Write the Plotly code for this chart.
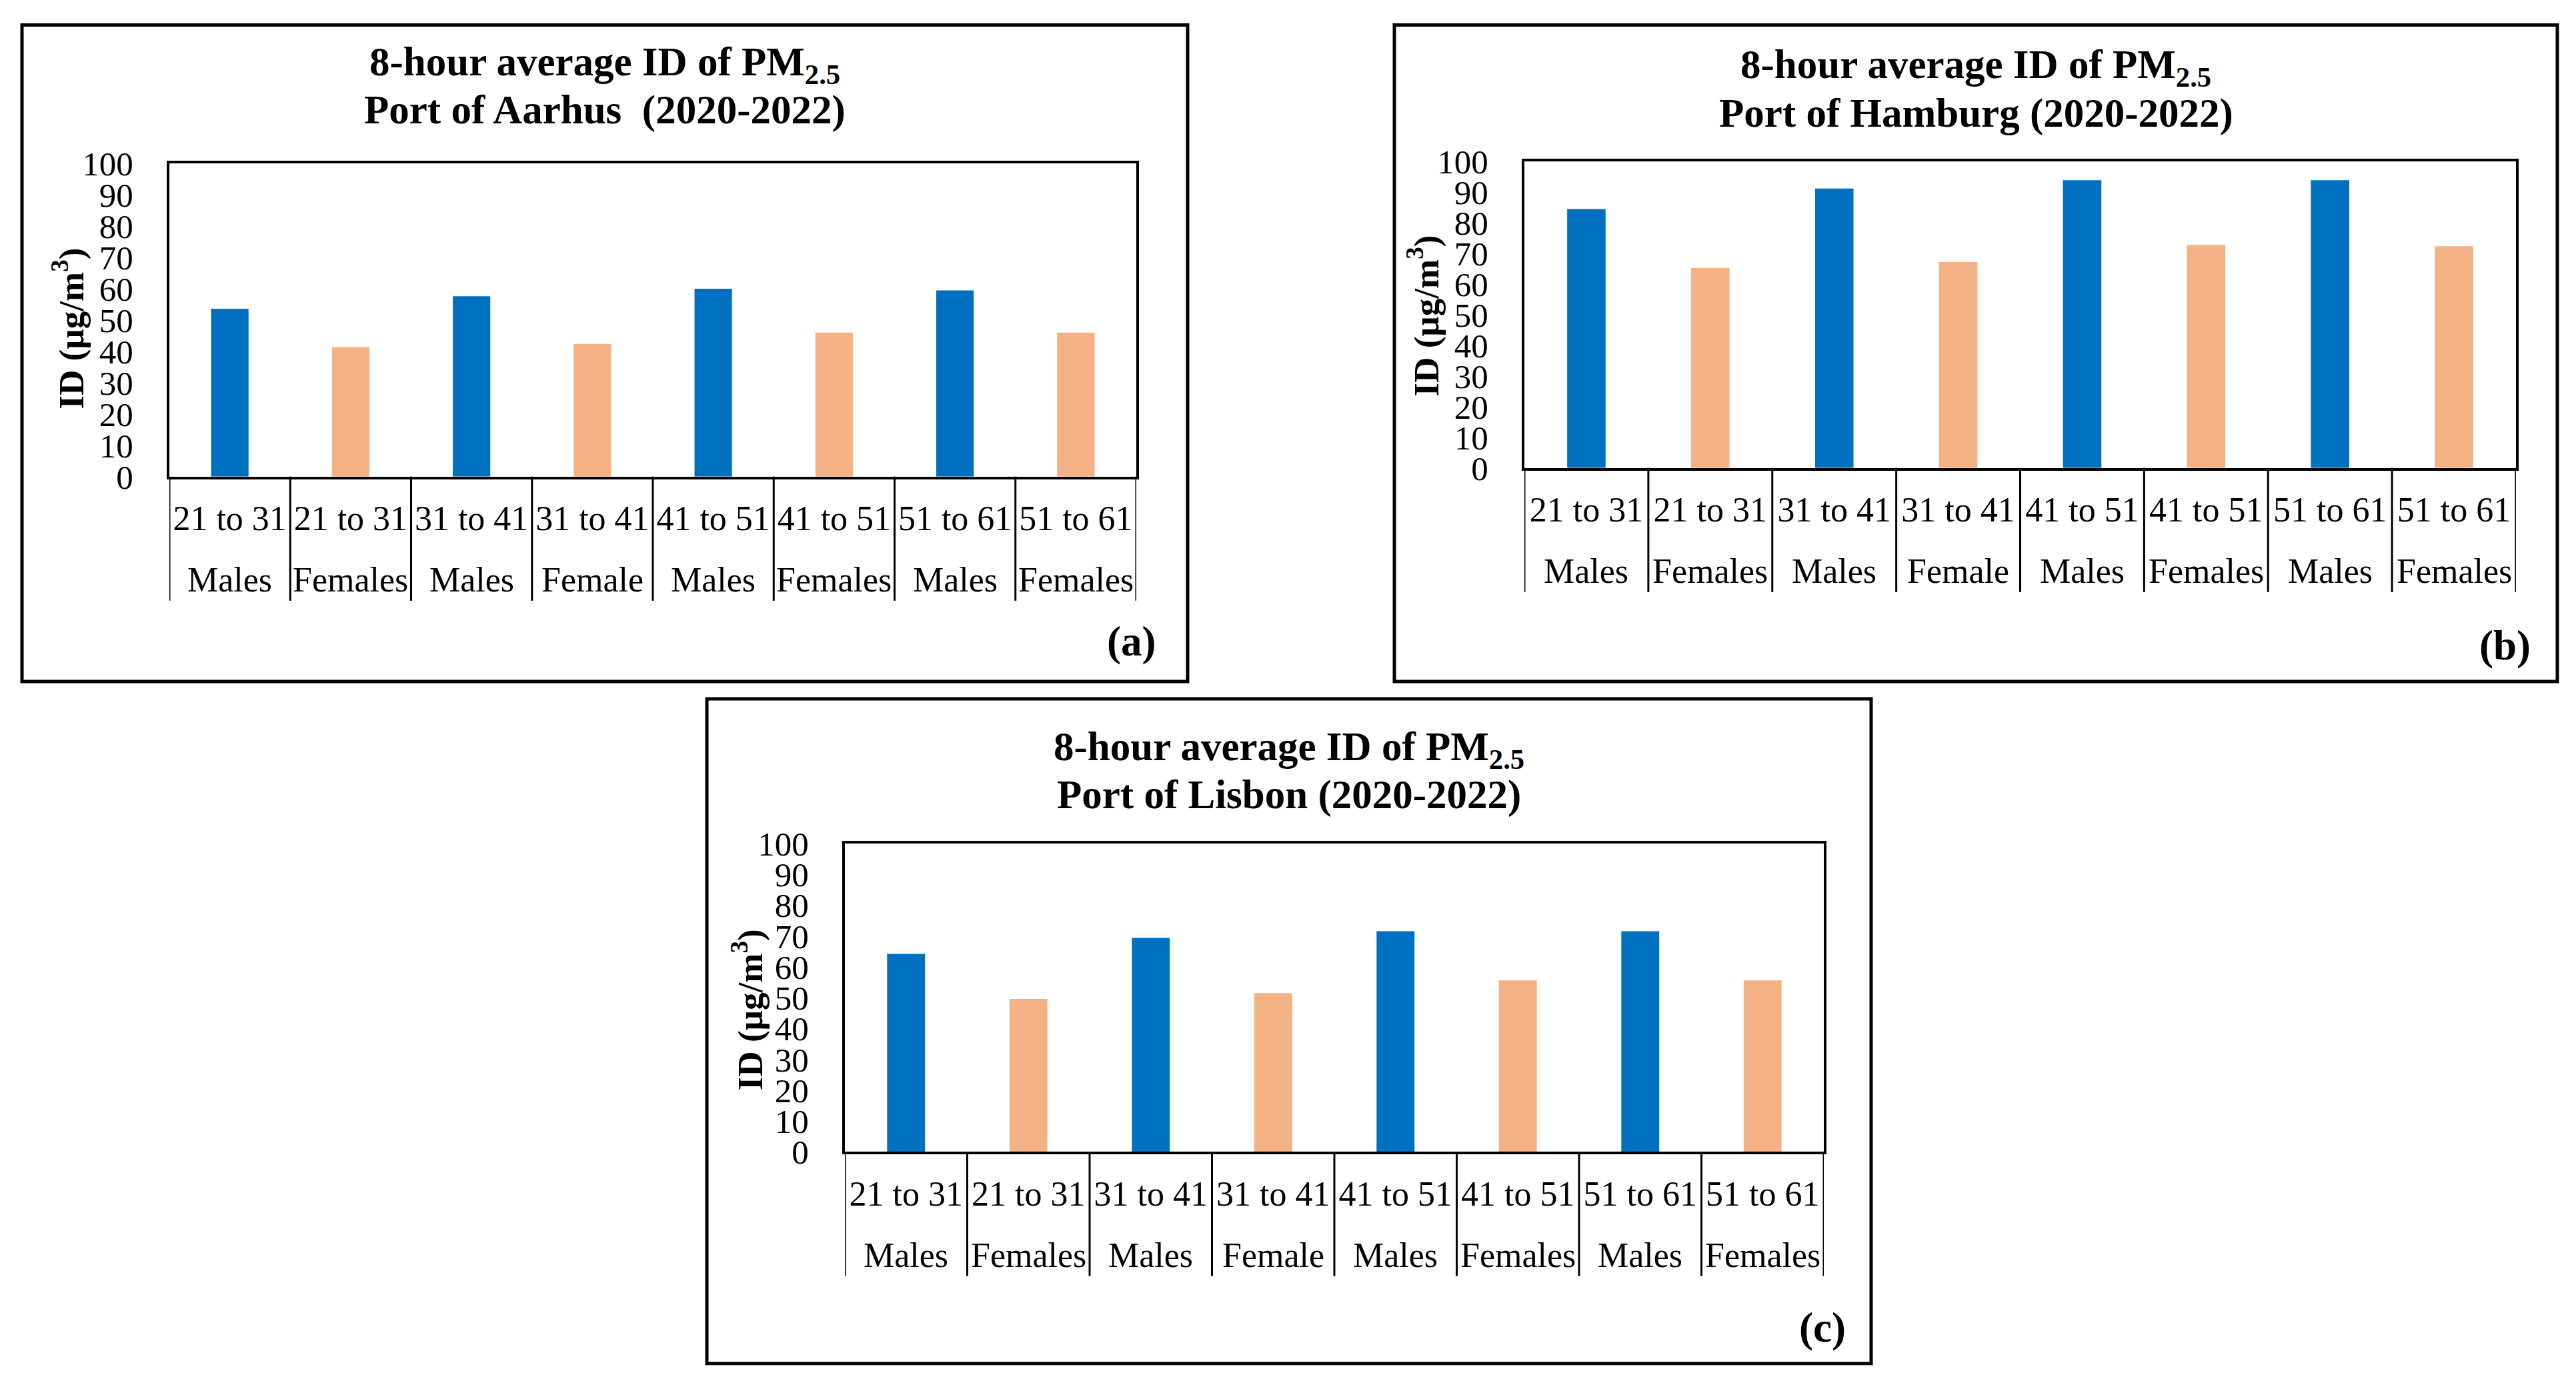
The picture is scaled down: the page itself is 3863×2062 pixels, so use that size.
import plotly.graph_objects as go

# figure size (the reference canvas is 3863 x 2062)
W, H = 3863, 2090

age_groups = ["21 to 31", "21 to 31", "31 to 41", "31 to 41",
              "41 to 51", "41 to 51", "51 to 61", "51 to 61"]
sex_labels = ["Males", "Females", "Males", "Female",
              "Males", "Females", "Males", "Females"]

aarhus = [53.6, 41.4, 57.6, 42.4, 60.0, 46.0, 59.5, 46.0]
hamburg = [84.5, 65.3, 91.2, 67.2, 93.9, 72.8, 93.9, 72.4]
lisbon = [64.2, 49.6, 69.4, 51.5, 71.6, 55.6, 71.6, 55.6]

title_line1 = "8-hour average ID of PM<sub>2.5</sub>"
titles = ["Port of Aarhus  (2020-2022)", "Port of Hamburg (2020-2022)", "Port of Lisbon (2020-2022)"]
panel_tags = ["(a)", "(b)", "(c)"]
y_title = "ID (µg/m<sup>3</sup>)"
y_ticks = list(range(0, 101, 10))

BLUE = "#0070C0"
ORANGE = "#F4B183"
FONT = "Liberation Serif, Times New Roman, serif"


# map reference-canvas pixel positions to figure pixels (page offset compensation)
def fx(x):
    return x - 8


def fy(y):
    return (y - 33.8) / 0.9725


def px(x):
    return fx(x) / W


def py(y):
    return min(1 - fy(y) / H, 1 - 2.5 / H)


panels = [
    dict(box=(33, 22, 1781, 1020), plot=(254, 244, 1704, 713), ytitle=(103, 491), tag=(1696, 960), t1=96, t2=164),
    dict(box=(2091, 22, 3835, 1020), plot=(2286, 241, 3773, 700), ytitle=(2135, 472), tag=(3756, 966), t1=100, t2=169),
    dict(box=(1060, 1046, 2806, 2042), plot=(1267, 1263, 2735, 1725), ytitle=(1121, 1512), tag=(2733, 1988), t1=1122, t2=1190),
]
datasets = [aarhus, hamburg, lisbon]

ROW2_OFF = 155   # px below the axis line, centre of 2nd label row
DIV_OFF = 186    # px below the axis line, bottom of divider lines

keys = [a + " | " + s for a, s in zip(age_groups, sex_labels)]
colors = [BLUE if s == "Males" else ORANGE for s in sex_labels]

fig = go.Figure()
shapes = []
annotations = []

for i, (p, vals) in enumerate(zip(panels, datasets)):
    ax = "" if i == 0 else str(i + 1)
    fig.add_trace(go.Bar(
        x=keys, y=vals,
        marker=dict(color=colors, line=dict(width=0)),
        width=0.31, xaxis="x" + ax, yaxis="y" + ax, showlegend=False,
    ))
    x0, y0, x1, y1 = p["plot"]
    ph = y1 - y0
    fig.layout["xaxis" + ax] = dict(
        domain=[px(x0), px(x1)], anchor="y" + ax, type="category",
        range=[-0.5, len(keys) - 0.5],
        tickmode="array", tickvals=keys, ticktext=age_groups,
        showline=True, linecolor="black", linewidth=4, mirror=True,
        showgrid=False, ticks="", ticklabelstandoff=14,
        tickfont=dict(family=FONT, size=52, color="black"),
    )
    fig.layout["yaxis" + ax] = dict(
        domain=[py(y1), py(y0)], anchor="x" + ax, range=[0, 100],
        tickvals=y_ticks, showline=True, linecolor="black", linewidth=4, mirror=True,
        showgrid=False, zeroline=False, ticks="", ticklabelstandoff=40,
        tickfont=dict(family=FONT, size=51, color="black"),
    )
    # category dividers below the axis
    for k in range(len(keys) + 1):
        shapes.append(dict(type="line", xref="x" + ax, yref="y" + ax + " domain",
                           x0=k - 0.5, x1=k - 0.5, y0=0, y1=-DIV_OFF / ph,
                           line=dict(color="black", width=3)))
    # second label row
    for k, s in enumerate(sex_labels):
        annotations.append(dict(text=s, xref="x" + ax, yref="y" + ax + " domain",
                                x=k, y=-ROW2_OFF / ph, showarrow=False,
                                xanchor="center", yanchor="middle",
                                font=dict(family=FONT, size=52, color="black")))
    bx0, by0, bx1, by1 = p["box"]
    shapes.append(dict(type="rect", xref="paper", yref="paper",
                       x0=px(bx0), x1=px(bx1), y0=py(by1), y1=py(by0),
                       line=dict(color="black", width=5)))
    cx = (bx0 + bx1) / 2
    bold = dict(family=FONT, color="black", weight="bold")
    annotations.append(dict(text=title_line1,
                            x=px(cx), y=py(p["t1"]), xref="paper", yref="paper",
                            showarrow=False, xanchor="center", yanchor="middle",
                            font=dict(bold, size=61)))
    annotations.append(dict(text=titles[i],
                            x=px(cx), y=py(p["t2"]), xref="paper", yref="paper",
                            showarrow=False, xanchor="center", yanchor="middle",
                            font=dict(bold, size=61)))
    annotations.append(dict(text=y_title, textangle=-90,
                            x=px(p["ytitle"][0]), y=py(p["ytitle"][1]), xref="paper", yref="paper",
                            showarrow=False, xanchor="center", yanchor="middle",
                            font=dict(bold, size=53)))
    annotations.append(dict(text=panel_tags[i],
                            x=px(p["tag"][0]), y=py(p["tag"][1]), xref="paper", yref="paper",
                            showarrow=False, xanchor="center", yanchor="middle",
                            font=dict(bold, size=63)))

fig.update_layout(
    width=W, height=H, margin=dict(l=0, r=0, t=0, b=0),
    paper_bgcolor="white", plot_bgcolor="white",
    shapes=shapes, annotations=annotations,
)

fig.write_html("out.html")
